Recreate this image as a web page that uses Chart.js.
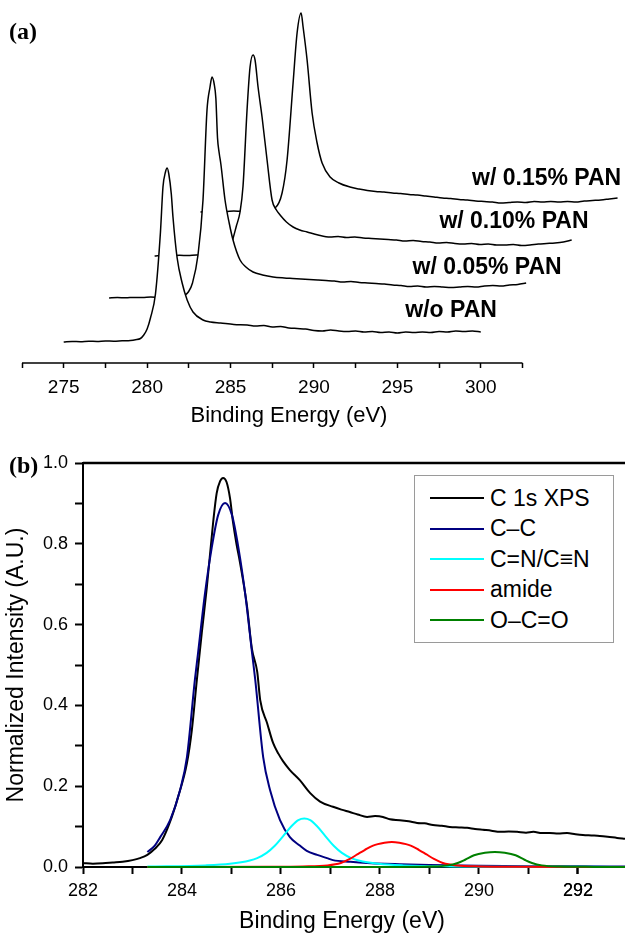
<!DOCTYPE html>
<html>
<head>
<meta charset="utf-8">
<script src="https://cdn.jsdelivr.net/npm/chart.js@4.4.1/dist/chart.umd.min.js"></script>
<style>
  html, body { margin: 0; padding: 0; background: #fff; }
  #page { position: relative; width: 625px; height: 933px; overflow: hidden; font-family: "Liberation Sans", Arial, sans-serif; }
  #boxA { position: absolute; left: 0; top: 0; width: 625px; height: 430px; }
  #boxB { position: absolute; left: 0; top: 430px; width: 625px; height: 503px; }
  .panel { position: absolute; font-family: "Liberation Serif", "Times New Roman", serif; font-weight: bold; font-size: 24px; line-height: 24px; color: #000; }
  #legendB { position: absolute; left: 414px; top: 475px; width: 200px; height: 168px; box-sizing: border-box; border: 1px solid #9a9a9a; background: #fff; padding-top: 7px; }
  .lrow { display: flex; align-items: center; height: 30.5px; }
  .lline { width: 54px; height: 2px; margin-left: 15px; margin-right: 6px; }
  .ltext { font-size: 23px; line-height: 23px; color: #000; white-space: nowrap; }
</style>
</head>
<body>
<div id="page">
  <div id="boxA"><canvas id="chartA"></canvas></div>
  <div id="boxB"><canvas id="chartB"></canvas></div>
  <div class="panel" style="left:9px; top:19px;">(a)</div>
  <div class="panel" style="left:9px; top:453px;">(b)</div>
  <div id="legendB"></div>
</div>
<script>
// ---------------- Panel (a): stacked C 1s spectra ----------------
const seriesNamesA = ['w/o PAN', 'w/ 0.05% PAN', 'w/ 0.10% PAN', 'w/ 0.15% PAN'];

const energyWoPAN = [275, 275.5, 276, 276.5, 277, 277.5, 278, 278.5, 279,
  279.3, 279.6, 279.8, 280.0, 280.2, 280.5, 280.8, 280.95, 281.1, 281.2, 281.3, 281.45, 281.55, 281.8, 282.1, 282.4, 282.75, 283.35, 283.8, 284.4, 285.2,
  286, 286.5, 287, 287.5, 288, 288.5, 289, 289.5, 290, 290.5, 291, 291.5, 292, 292.5, 293, 293.5, 294, 294.5, 295, 295.5, 296, 296.5, 297, 297.5, 298, 298.5, 299, 299.5, 300];
const intensityWoPAN = [0, 0.5, 0.3, 0.8, 0.6, 1.0, 0.8, 1.2, 1.5,
  2.2, 3.5, 7, 13, 24, 48, 110, 155, 170, 174, 168, 148, 125, 84, 59, 42, 30, 22, 20, 19, 17.5,
  17, 16, 16.5, 15, 15.5, 14, 13.5, 13, 11.5, 11, 12, 11, 10.5, 11, 10, 10.5, 9.5, 10, 9, 10, 9.5, 10, 9.5, 10.5, 10, 11, 10.5, 11, 10];

const energy005 = [275, 275.5, 276, 276.5, 277, 277.5, 278, 278.5, 279,
  279.3, 279.55, 279.75, 280.0, 280.33, 280.63, 280.87, 281.05, 281.17, 281.3, 281.4, 281.5, 281.6, 281.7, 281.95, 282.2, 282.43, 282.85, 283.2, 283.63, 284.2, 284.83, 285.5,
  286, 286.5, 287, 287.5, 288, 288.5, 289, 289.5, 290, 290.5, 291, 291.5, 292, 292.5, 293, 293.5, 294, 294.5, 295, 295.5, 296, 296.5, 297, 297.5, 298, 298.5, 299, 299.5, 300];
const intensity005 = [0, 0.4, 0.2, 0.6, 0.5, 0.9, 0.7, 1.0, 1.3,
  2, 3, 6, 15, 43, 98, 188, 211, 221, 214, 200, 160, 145, 134, 98, 75, 58, 38, 31, 26, 23, 21, 20,
  19.5, 19, 18.5, 18, 17.5, 17, 16, 16.5, 15.5, 15, 14.5, 14, 13, 12.5, 11.5, 12, 11, 11.5, 11, 10.5, 11, 11.5, 11, 12, 12.5, 12, 13, 13.5, 15];

const energy010 = [275, 275.5, 276, 276.5, 277, 277.5, 278, 278.5, 279,
  279.4, 279.64, 279.9, 280.12, 280.3, 280.54, 280.72, 280.9, 281.02, 281.2, 281.44, 281.74, 282.04, 282.3, 282.52, 282.9, 283.3, 283.7, 284.14, 284.8, 285.52,
  286, 286.5, 287, 287.5, 288, 288.5, 289, 289.5, 290, 290.5, 291, 291.5, 292, 292.5, 293, 293.5, 294, 294.5, 295, 295.5, 296, 296.5, 297, 297.5, 298, 298.5, 299, 299.5, 300];
const intensity010 = [0, 0.5, 0.3, 0.7, 0.5, 1, 0.8, 1.2, 1.5,
  3, 14, 30, 44, 70, 146, 189, 201, 196, 169, 139, 96, 56, 46, 41, 34, 29, 26, 24, 21, 19,
  19.5, 18.5, 19, 18, 17.5, 17, 16.5, 16, 15, 15.5, 14.5, 14, 13, 13.5, 12.5, 12, 12.5, 11.5, 12, 11, 11, 11.5, 10.5, 11, 12, 12.5, 13, 14, 16];

const energy015 = [275, 275.5, 276, 276.5, 277, 277.5, 278, 278.5, 279,
  279.47, 279.89, 280.19, 280.55, 280.79, 281.03, 281.15, 281.39, 281.69, 281.99, 282.29, 282.77, 283.3, 283.96, 284.5,
  285, 285.5, 286, 286.5, 287, 287.5, 288, 288.5, 289, 289.5, 290, 290.5, 291, 291.5, 292, 292.5, 293, 293.5, 294, 294.5, 295, 295.5, 296, 296.5, 297, 297.5, 298, 298.5, 299, 299.5, 300];
const intensity015 = [0, 0.4, 0.8, 0.5, 1, 0.7, 1.2, 1.5, 2,
  4, 19, 52, 129, 179, 199, 185, 152, 99, 69, 49, 35, 29, 25, 23,
  21.5, 20.5, 20, 19, 18.5, 17.5, 17, 16, 15, 14, 13.5, 12.5, 12, 11, 10.5, 10, 9, 9.5, 10, 9.5, 10.5, 10, 10.5, 10, 10.5, 10, 11, 11.5, 12, 13, 14];

// waterfall offsets (energy shift, intensity shift) for each spectrum
const offsetEnergyA = [0, 2.72, 5.45, 8.2];
const offsetIntensityA = [21, 65, 107, 151];
// anchor of each spectrum's name, in plot units
const labelEnergyA = [298.22, 300.38, 301.99, 303.95];
const labelIntensityA = [52, 95, 141, 184];
const tickLabelsA = [275, 280, 285, 290, 295, 300];
const axisRangeA = [272.5, 302.5];   // drawn extent of the energy axis
const viewRangeA = [272.5, 304.51];  // scale window

// ---------------- Panel (b): C 1s fit ----------------
const seriesNamesB = ['C 1s XPS', 'C\u2013C', 'C=N/C\u2261N', 'amide', 'O\u2013C=O'];

const energyXPS = [282, 282.2, 282.4, 282.6, 282.8, 283, 283.15, 283.3, 283.45, 283.6, 283.75, 283.92, 284.1, 284.2, 284.3,
  284.4, 284.5, 284.63, 284.7, 284.77, 284.83, 284.9, 284.97, 285.03, 285.1, 285.17, 285.31, 285.41, 285.52, 285.58,
  285.72, 285.84, 285.95, 286.04, 286.18, 286.38, 286.59, 286.79, 287.05, 287.22, 287.39, 287.55, 287.74, 287.9, 288.06,
  288.2, 288.4, 288.58, 288.75, 288.9, 289.07, 289.25, 289.41, 289.6, 289.76, 289.92, 290.08, 290.25, 290.42, 290.6,
  290.77, 290.95, 291.1, 291.27, 291.43, 291.6, 291.78, 291.95, 292.1, 292.27, 292.44, 292.6, 292.79, 292.95];
const intensityXPS = [0.010, 0.008, 0.009, 0.011, 0.013, 0.017, 0.022, 0.030, 0.045, 0.067, 0.109, 0.173, 0.257, 0.34, 0.463,
  0.58, 0.69, 0.854, 0.925, 0.955, 0.963, 0.953, 0.913, 0.854, 0.80, 0.755, 0.649, 0.542, 0.483, 0.413,
  0.356, 0.307, 0.28, 0.262, 0.24, 0.215, 0.183, 0.162, 0.149, 0.142, 0.136, 0.130, 0.124, 0.126, 0.124,
  0.118, 0.116, 0.113, 0.109, 0.108, 0.104, 0.102, 0.099, 0.098, 0.097, 0.094, 0.092, 0.090, 0.087, 0.088,
  0.087, 0.085, 0.087, 0.084, 0.084, 0.083, 0.084, 0.081, 0.079, 0.078, 0.077, 0.075, 0.072, 0.070];

const energyCC = [283.3, 283.45, 283.56, 283.76, 283.96, 284.1, 284.26, 284.32, 284.46, 284.6, 284.73, 284.87, 285.01, 285.14, 285.28,
  285.42, 285.48, 285.64, 285.78, 285.98, 286.18, 286.38, 286.52, 286.73, 286.93, 287.05, 287.4, 287.74, 288.1, 288.4, 289, 289.5, 290, 291, 292, 292.95];
const intensityCC = [0.037, 0.053, 0.074, 0.116, 0.19, 0.272, 0.463, 0.525, 0.673, 0.79, 0.871, 0.901, 0.871, 0.79, 0.673,
  0.525, 0.463, 0.272, 0.19, 0.116, 0.074, 0.053, 0.04, 0.03, 0.022, 0.017, 0.013, 0.01, 0.008, 0.007, 0.005, 0.004, 0.003, 0.002, 0.002, 0.001];

const energyCN = [283.3, 284.47, 284.97, 285.37, 285.52, 285.71, 285.87, 286.04, 286.22, 286.35, 286.47, 286.59, 286.72, 286.9, 287.07,
  287.23, 287.42, 287.57, 287.97, 288.47, 289.47, 290.47, 292.95];
const intensityCN = [0.001, 0.004, 0.008, 0.016, 0.022, 0.035, 0.052, 0.076, 0.102, 0.116, 0.120, 0.116, 0.102, 0.076, 0.052,
  0.035, 0.022, 0.016, 0.008, 0.004, 0.0015, 0.0008, 0.0003];

const energyAmide = [283.3, 285.74, 286.44, 286.94, 287.21, 287.39, 287.54, 287.69, 287.86, 288.09, 288.24, 288.39, 288.62, 288.79, 288.94,
  289.09, 289.27, 289.54, 290.04, 290.74, 292.95];
const intensityAmide = [0, 0.0006, 0.0015, 0.004, 0.01, 0.02, 0.031, 0.042, 0.053, 0.060, 0.062, 0.060, 0.053, 0.042, 0.031,
  0.02, 0.01, 0.004, 0.0015, 0.0006, 0.0001];

const energyOCO = [283.3, 288.32, 289.02, 289.37, 289.57, 289.72, 289.9, 290.12, 290.32, 290.52, 290.74, 290.92, 291.07, 291.27, 291.62, 292.32, 292.95];
const intensityOCO = [0, 0.0003, 0.0012, 0.004, 0.01, 0.018, 0.029, 0.035, 0.037, 0.035, 0.029, 0.018, 0.01, 0.004, 0.0012, 0.0003, 0.0001];

const tickLabelsBx = [282, 284, 286, 288, 290, 292];
const tickLabelsBy = [0, 0.2, 0.4, 0.6, 0.8, 1.0];
const viewRangeB = [282, 292.465];

// ---------------- build ----------------
Chart.defaults.font.family = '"Liberation Sans", Arial, sans-serif';
Chart.defaults.color = '#000';

const zip = (xs, ys, dx, dy) => xs.map((x, j) => ({ x: x + dx, y: ys[j] + dy }));

const curvesA = [
  [energyWoPAN, intensityWoPAN],
  [energy005, intensity005],
  [energy010, intensity010],
  [energy015, intensity015]
];

const axisLineA = {
  id: 'axisLineA',
  afterDatasetsDraw(chart) {
    const xs = chart.scales.x, ys = chart.scales.y, ctx = chart.ctx;
    ctx.save();
    ctx.strokeStyle = '#000';
    ctx.lineWidth = 1.5;
    ctx.beginPath();
    ctx.moveTo(xs.getPixelForValue(axisRangeA[0]), chart.chartArea.bottom);
    ctx.lineTo(xs.getPixelForValue(axisRangeA[1]), chart.chartArea.bottom);
    ctx.stroke();
    ctx.fillStyle = '#000';
    ctx.font = 'bold 23px "Liberation Sans", Arial, sans-serif';
    ctx.textAlign = 'center';
    ctx.textBaseline = 'middle';
    seriesNamesA.forEach((name, i) => {
      ctx.fillText(name, xs.getPixelForValue(labelEnergyA[i]), ys.getPixelForValue(labelIntensityA[i]));
    });
    ctx.restore();
  }
};

new Chart(document.getElementById('chartA'), {
  type: 'line',
  data: {
    datasets: curvesA.map((c, k) => ({
      label: seriesNamesA[k],
      data: zip(c[0], c[1], offsetEnergyA[k], offsetIntensityA[k]),
      borderColor: '#000',
      borderWidth: 1.5,
      backgroundColor: '#fff',
      fill: 'origin',
      pointRadius: 0,
      cubicInterpolationMode: 'monotone',
      clip: false
    }))
  },
  options: {
    animation: false,
    responsive: true,
    maintainAspectRatio: false,
    layout: { padding: { left: 22, right: 69, top: 0, bottom: 0 } },
    plugins: { legend: { display: false }, tooltip: { enabled: false } },
    scales: {
      x: {
        type: 'linear',
        bounds: 'data',
        afterDataLimits: (s) => { s.min = viewRangeA[0]; s.max = viewRangeA[1]; },
        afterBuildTicks: (s) => { s.ticks = s.ticks.filter(t => t.value >= axisRangeA[0] - 1e-6 && t.value <= axisRangeA[1] + 1e-6 && Math.abs(t.value / 2.5 - Math.round(t.value / 2.5)) < 1e-6); },
        afterFit: (s) => { s.height = 67; },
        ticks: {
          stepSize: 2.5,
          autoSkip: false,
          maxRotation: 0,
          padding: 8,
          font: { size: 19 },
          callback: (v) => tickLabelsA.includes(v) ? String(v) : ''
        },
        grid: { display: true, drawOnChartArea: false, drawTicks: true, tickLength: 5, tickColor: '#000', tickWidth: 1.5 },
        border: { display: false },
        title: { display: true, text: 'Binding Energy (eV)', font: { size: 22, lineHeight: 1 }, padding: { top: 0, bottom: 3.5 } }
      },
      y: { display: false, min: 0, max: 363 }
    }
  },
  plugins: [axisLineA]
});

const curvesB = [
  [energyXPS, intensityXPS],
  [energyCC, intensityCC],
  [energyCN, intensityCN],
  [energyAmide, intensityAmide],
  [energyOCO, intensityOCO]
];
const coloursB = ['#000000', '#000080', '#00ffff', '#ff0000', '#008000'];

const frameB = {
  id: 'frameB',
  beforeDatasetsDraw(chart) {
    const a = chart.chartArea, ctx = chart.ctx;
    ctx.save();
    ctx.strokeStyle = '#000';
    ctx.lineWidth = 2.5;
    ctx.beginPath();
    ctx.moveTo(a.left, a.top);
    ctx.lineTo(chart.width, a.top);
    ctx.stroke();
    ctx.lineWidth = 2;
    ctx.beginPath();
    ctx.moveTo(a.left - 1, a.bottom);
    ctx.lineTo(chart.width, a.bottom);
    ctx.stroke();
    ctx.restore();
  }
};

const chartB = new Chart(document.getElementById('chartB'), {
  type: 'line',
  data: {
    datasets: curvesB.map((c, k) => ({
      label: seriesNamesB[k],
      data: zip(c[0], c[1], 0, 0),
      borderColor: coloursB[k],
      borderWidth: 2,
      pointRadius: 0,
      fill: false,
      cubicInterpolationMode: 'monotone',
      clip: false,
      order: curvesB.length - k
    }))
  },
  options: {
    animation: false,
    responsive: true,
    maintainAspectRatio: false,
    layout: { padding: { left: 0, right: 24, top: 33, bottom: 0 } },
    plugins: { legend: { display: false }, tooltip: { enabled: false } },
    scales: {
      x: {
        type: 'linear',
        bounds: 'data',
        afterDataLimits: (s) => { s.min = viewRangeB[0]; s.max = viewRangeB[1]; },
        afterBuildTicks: (s) => { s.ticks = s.ticks.filter(t => Number.isInteger(Math.round(t.value * 1e6) / 1e6) && t.value <= viewRangeB[1]); },
        afterFit: (s) => { s.height = 66; },
        ticks: {
          stepSize: 1,
          autoSkip: false,
          maxRotation: 0,
          padding: 6,
          font: { size: 18 },
          callback: (v) => tickLabelsBx.includes(v) ? String(v) : ''
        },
        grid: { display: true, drawOnChartArea: false, drawTicks: true, tickLength: 7, tickColor: '#000', tickWidth: 2 },
        border: { display: false },
        title: { display: true, text: 'Binding Energy (eV)', font: { size: 23, lineHeight: 1 }, padding: { top: 0, bottom: 0 } }
      },
      y: {
        type: 'linear',
        min: 0,
        max: 1,
        afterFit: (s) => { s.width = 83; },
        ticks: {
          stepSize: 0.1,
          autoSkip: false,
          padding: 7,
          font: { size: 18 },
          callback: (v) => tickLabelsBy.some(t => Math.abs(t - v) < 1e-6) ? v.toFixed(1) : ''
        },
        grid: { display: true, drawOnChartArea: false, drawTicks: true, tickLength: 8, tickColor: '#000', tickWidth: 2 },
        border: { display: true, color: '#000', width: 2 },
        title: { display: true, text: 'Normalized Intensity (A.U.)', font: { size: 23, lineHeight: 1 }, padding: { top: 5.5, bottom: 0 } }
      }
    }
  },
  plugins: [frameB]
});

// HTML legend for panel (b), built from the chart's datasets
const legendEl = document.getElementById('legendB');
chartB.data.datasets.forEach(ds => {
  const row = document.createElement('div');
  row.className = 'lrow';
  const line = document.createElement('div');
  line.className = 'lline';
  line.style.background = ds.borderColor;
  const txt = document.createElement('span');
  txt.className = 'ltext';
  txt.textContent = ds.label;
  row.appendChild(line);
  row.appendChild(txt);
  legendEl.appendChild(row);
});
</script>
</body>
</html>
